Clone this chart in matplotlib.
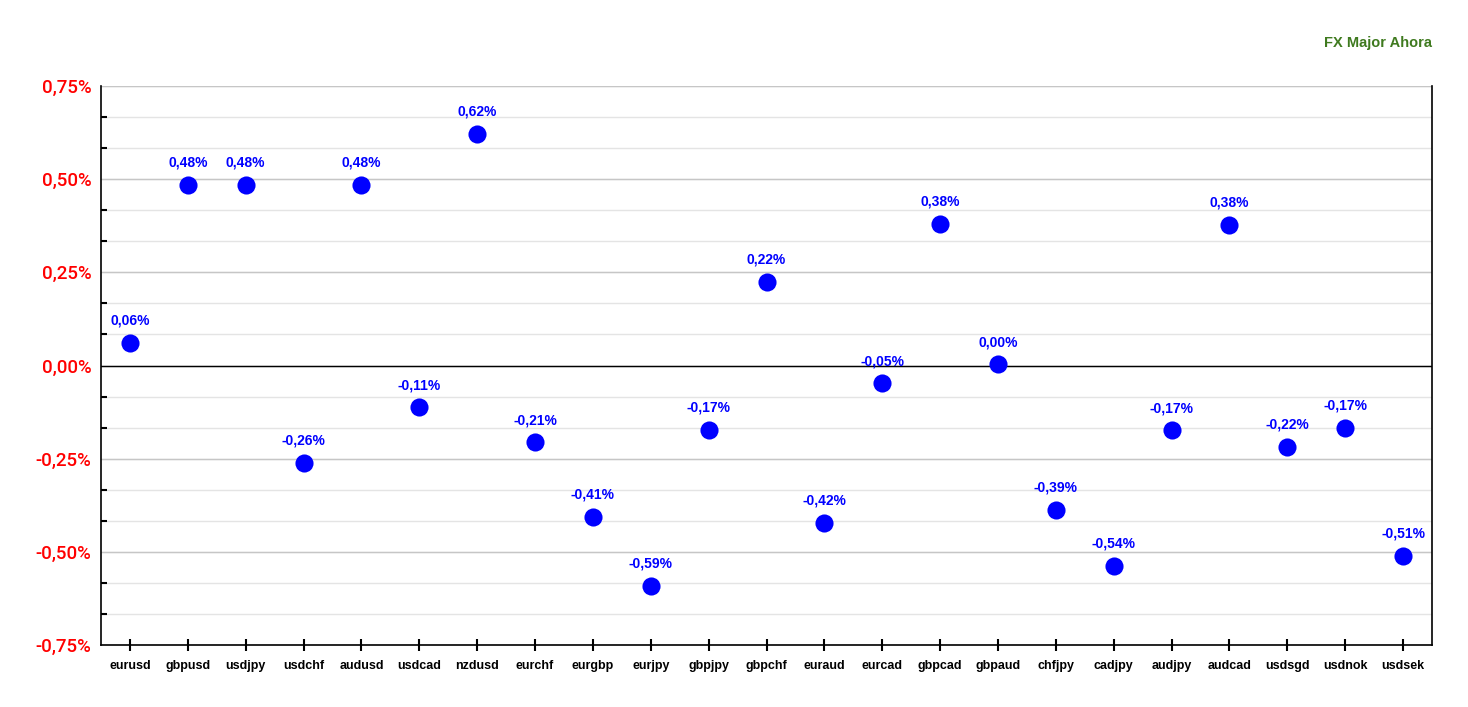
import matplotlib
matplotlib.use("Agg")

import matplotlib.pyplot as plt
from matplotlib.ticker import FixedLocator, FuncFormatter
import numpy as np

# ---------------------------
# Data (percent change)
# ---------------------------
pairs = [
    "eurusd", "gbpusd", "usdjpy", "usdchf", "audusd", "usdcad", "nzdusd",
    "eurchf", "eurgbp", "eurjpy", "gbpjpy", "gbpchf", "euraud", "eurcad",
    "gbpcad", "gbpaud", "chfjpy", "cadjpy", "audjpy", "audcad", "usdsgd",
    "usdnok", "usdsek",
]
changes = [
    0.061, 0.484, 0.484, -0.262, 0.484, -0.112, 0.621,
    -0.206, -0.407, -0.592, -0.172, 0.224, -0.423, -0.048,
    0.380, 0.003, -0.388, -0.538, -0.174, 0.377, -0.219,
    -0.167, -0.511,
]
major_ticks = [-0.75, -0.5, -0.25, 0.0, 0.25, 0.5, 0.75]
title = "FX Major Ahora"


def pct(v, _pos=None):
    return f"{v:.2f}%".replace(".", ",")


fig = plt.figure(figsize=(14.68, 7.07), dpi=100)
ax = fig.add_axes([101 / 1468, 1 - 645 / 707, 1331 / 1468, 559 / 707])

x = np.arange(len(pairs))

# ---------------------------
# Grid
# ---------------------------
minor_ticks = np.linspace(-0.75, 0.75, 19)
for yv in minor_ticks:
    ax.axhline(yv, color="#e4e4e4", lw=1, zorder=0)
for yv in major_ticks:
    ax.axhline(yv, color="#c6c6c6", lw=1, zorder=0)
ax.axhline(0, color="black", lw=1, zorder=1)

# ---------------------------
# Points + labels
# ---------------------------
ax.scatter(x, changes, s=170, color="#0000ff", zorder=3, linewidths=0)
for xi, v in zip(x, changes):
    ax.annotate(
        pct(v),
        xy=(xi, v),
        xytext=(0, 16),
        textcoords="offset points",
        ha="center",
        va="center",
        fontsize=10,
        fontweight="bold",
        color="#0000ff",
        family="Liberation Sans",
        zorder=2,
        arrowprops=dict(arrowstyle="-", color="#e0e0e0", lw=1,
                        shrinkA=6, shrinkB=4),
    )

ax.set_xlim(-0.5, len(pairs) - 0.5)
ax.set_ylim(-0.75, 0.75)

# ---------------------------
# Axes styling
# ---------------------------
ax.spines["top"].set_visible(False)
for side in ("left", "right", "bottom"):
    ax.spines[side].set_color("black")
    ax.spines[side].set_linewidth(1.2)

minor_only = [t for t in minor_ticks
              if not np.isclose(t % 0.25, 0) and not np.isclose(t % 0.25, 0.25)]
ax.yaxis.set_major_locator(FixedLocator(major_ticks))
ax.yaxis.set_minor_locator(FixedLocator(minor_only))
ax.yaxis.set_major_formatter(FuncFormatter(pct))
ax.tick_params(axis="y", which="major", length=0, pad=7, labelcolor="#ff0000",
               labelsize=13.5)
ax.tick_params(axis="y", which="minor", direction="in", length=4.5, width=1.5,
               color="black")
for lbl in ax.get_yticklabels():
    lbl.set_family("Roboto")
    lbl.set_fontweight("medium")

ax.set_xticks(x)
ax.set_xticklabels(pairs, fontsize=9, fontweight="bold", family="Liberation Sans")
ax.tick_params(axis="x", direction="inout", length=9, width=1.5, pad=6,
               color="black")

fig.text(1432 / 1468, 1 - 43 / 707, title, ha="right", va="center",
         fontsize=10.5, fontweight="bold", color="#3f7a1f",
         family="Liberation Sans")

plt.savefig("out.png", dpi=100)
plt.close()
